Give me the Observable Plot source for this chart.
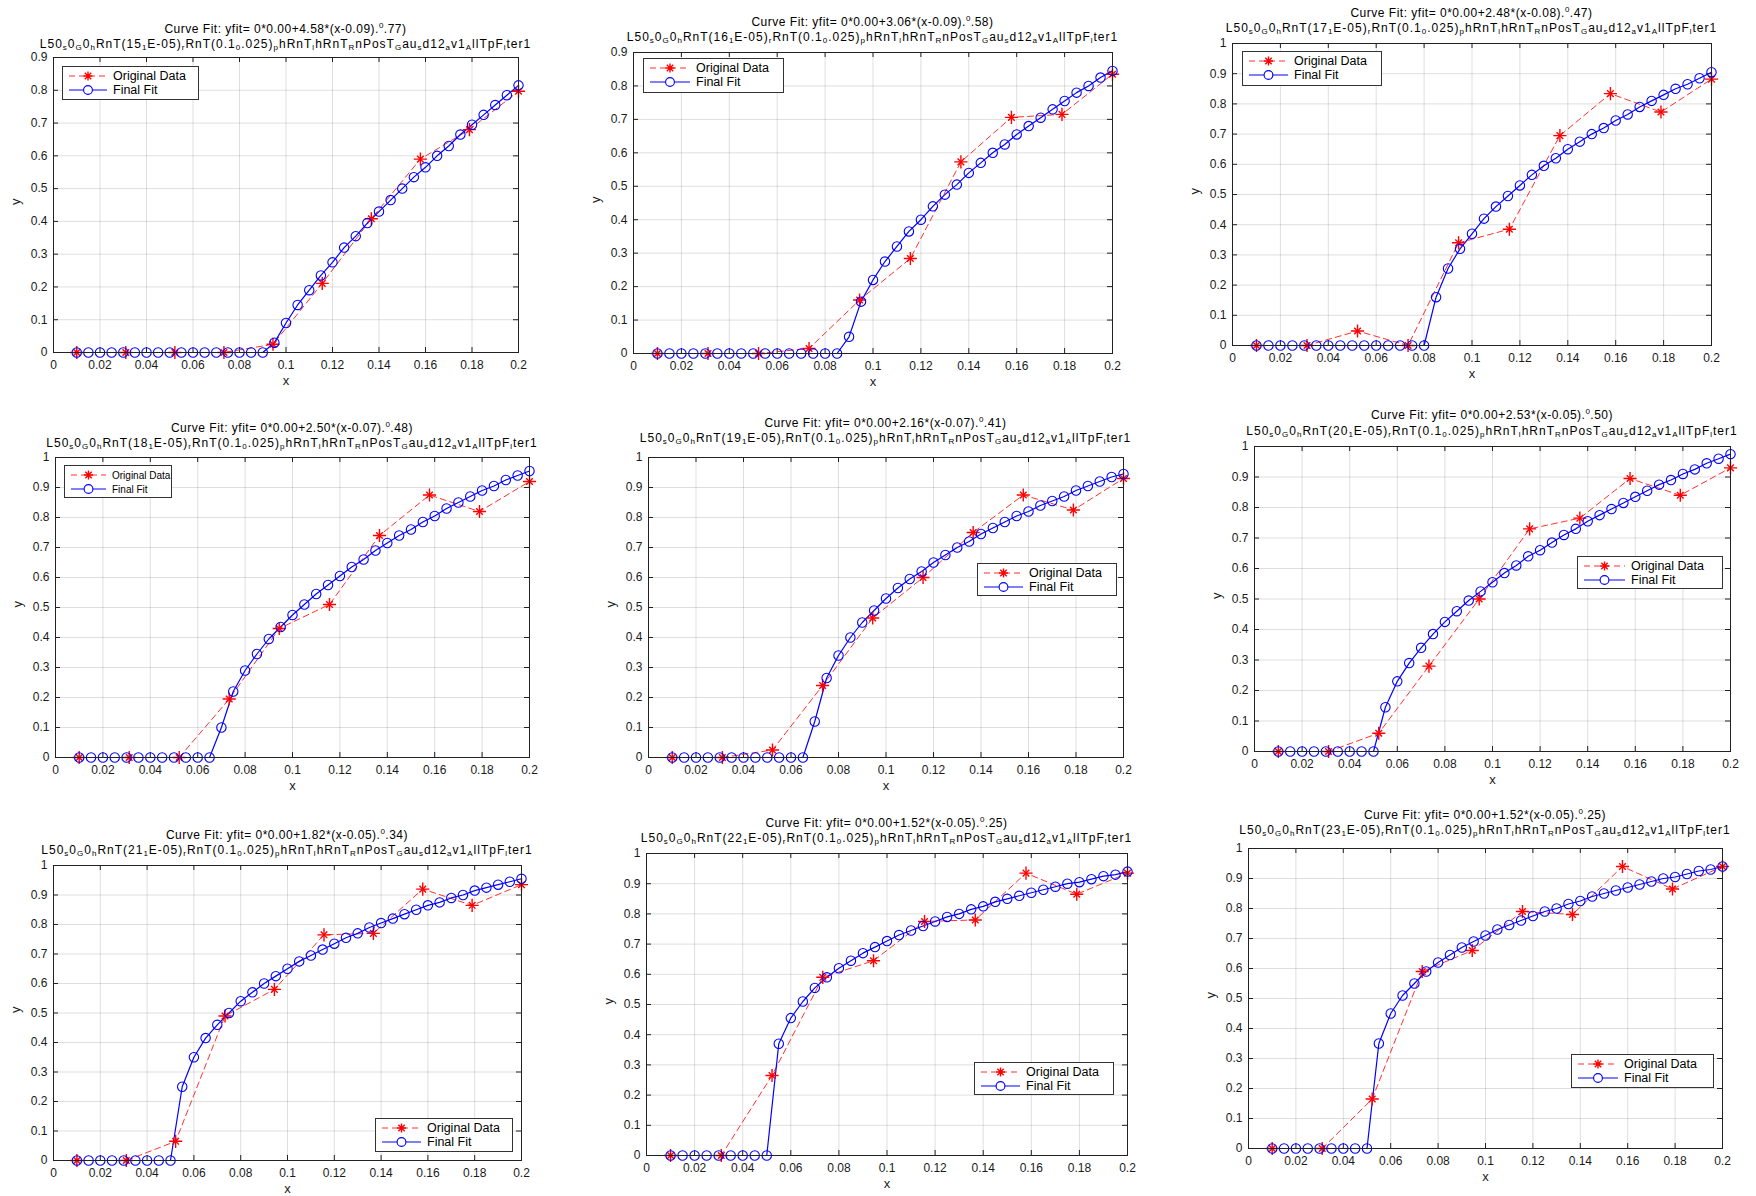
<!DOCTYPE html>
<html>
<head>
<meta charset="utf-8">
<script src="https://cdn.jsdelivr.net/npm/d3@7"></script>
<script src="https://cdn.jsdelivr.net/npm/@observablehq/plot@0.6"></script>
<style>
  html, body { margin: 0; padding: 0; background: #fff; }
  #root { position: relative; width: 1756px; height: 1196px; overflow: hidden; background: #fff; font-family: "Liberation Sans", Arial, sans-serif; }
  .panel-svg { position: absolute; }
  .ttl { position: absolute; white-space: nowrap; text-align: center; font-size: 12px; line-height: 13px; height: 13px; color: #000; }
  .ttl.l1 { letter-spacing: 0.5px; }
  .ttl.l2 { letter-spacing: 1px; }
  .ttl sub, .ttl sup { font-size: 8px; line-height: 0; }
  .ttl sub { vertical-align: -2px; }
  .ttl sup { vertical-align: 5px; }
  .legend { position: absolute; background: #fff; border: 1.5px solid #333; box-sizing: border-box; color: #000; padding: 2px 4px; white-space: nowrap; }
  .legend .row { display: flex; align-items: center; height: 14px; }
  .legend svg { flex: none; margin-right: 4px; }
</style>
</head>
<body>
<div id="root"></div>
<script>
// ---- data ----
const xOrig = [0.01, 0.0311, 0.0522, 0.0733, 0.0944, 0.1156, 0.1367, 0.1578, 0.1789, 0.2];
const xFit = [0.01, 0.015, 0.02, 0.025, 0.03, 0.035, 0.04, 0.045, 0.05, 0.055, 0.06, 0.065, 0.07, 0.075, 0.08,
  0.085, 0.09, 0.095, 0.1, 0.105, 0.11, 0.115, 0.12, 0.125, 0.13, 0.135, 0.14, 0.145, 0.15, 0.155, 0.16,
  0.165, 0.17, 0.175, 0.18, 0.185, 0.19, 0.195, 0.2];
const xTicks = [0, 0.02, 0.04, 0.06, 0.08, 0.1, 0.12, 0.14, 0.16, 0.18, 0.2];
const yTicks09 = [0, 0.1, 0.2, 0.3, 0.4, 0.5, 0.6, 0.7, 0.8, 0.9];
const yTicks10 = [0, 0.1, 0.2, 0.3, 0.4, 0.5, 0.6, 0.7, 0.8, 0.9, 1];

const runIds = [15, 16, 17, 18, 19, 20, 21, 22, 23];
const coefA = ["4.58", "3.06", "2.48", "2.50", "2.16", "2.53", "1.82", "1.52", "1.52"];
const coefB = ["0.09", "0.09", "0.08", "0.07", "0.07", "0.05", "0.05", "0.05", "0.05"];
const coefC = [".77", ".58", ".47", ".48", ".41", ".50", ".34", ".25", ".25"];
const yMaxes = [0.9, 0.9, 1, 1, 1, 1, 1, 1, 1];
const legendLabels = ["Original Data", "Final Fit"];

const orig15 = [0, 0, 0, 0, 0.025, 0.211, 0.408, 0.59, 0.68, 0.797];
const orig16 = [0, 0, 0, 0.015, 0.16, 0.284, 0.573, 0.706, 0.715, 0.835];
const orig17 = [0, 0, 0.048, 0, 0.34, 0.385, 0.695, 0.834, 0.773, 0.882];
const orig18 = [0, 0, 0, 0.195, 0.43, 0.51, 0.74, 0.875, 0.82, 0.92];
const orig19 = [0, 0, 0.025, 0.24, 0.465, 0.60, 0.75, 0.875, 0.825, 0.93];
const orig20 = [0, 0, 0.06, 0.28, 0.50, 0.73, 0.765, 0.895, 0.84, 0.93];
const orig21 = [0, 0, 0.065, 0.49, 0.58, 0.765, 0.77, 0.92, 0.865, 0.935];
const orig22 = [0, 0, 0.265, 0.59, 0.645, 0.775, 0.78, 0.935, 0.865, 0.935];
const orig23 = [0, 0, 0.165, 0.59, 0.66, 0.79, 0.78, 0.94, 0.865, 0.94];

const fit15 = [0, 0, 0, 0, 0, 0, 0, 0, 0, 0, 0, 0, 0, 0, 0, 0, 0,
  0.03, 0.09, 0.145, 0.19, 0.235, 0.275, 0.32, 0.355, 0.395, 0.43, 0.465, 0.50, 0.535, 0.565, 0.60, 0.63, 0.665, 0.695, 0.725, 0.755, 0.785, 0.815];
const fit16 = [0, 0, 0, 0, 0, 0, 0, 0, 0, 0, 0, 0, 0, 0, 0, 0,
  0.05, 0.155, 0.22, 0.275, 0.32, 0.365, 0.40, 0.44, 0.475, 0.505, 0.54, 0.57, 0.60, 0.625, 0.655, 0.68, 0.705, 0.73, 0.755, 0.78, 0.80, 0.825, 0.845];
const fit17 = [0, 0, 0, 0, 0, 0, 0, 0, 0, 0, 0, 0, 0, 0, 0,
  0.16, 0.255, 0.32, 0.37, 0.42, 0.46, 0.495, 0.53, 0.565, 0.595, 0.62, 0.65, 0.675, 0.70, 0.72, 0.745, 0.765, 0.79, 0.81, 0.83, 0.85, 0.865, 0.885, 0.905];
const fit18 = [0, 0, 0, 0, 0, 0, 0, 0, 0, 0, 0, 0,
  0.10, 0.22, 0.29, 0.345, 0.395, 0.435, 0.475, 0.51, 0.545, 0.575, 0.605, 0.635, 0.66, 0.69, 0.715, 0.74, 0.76, 0.785, 0.805, 0.83, 0.85, 0.87, 0.89, 0.905, 0.925, 0.94, 0.955];
const fit19 = [0, 0, 0, 0, 0, 0, 0, 0, 0, 0, 0, 0,
  0.12, 0.265, 0.34, 0.40, 0.45, 0.49, 0.53, 0.565, 0.595, 0.62, 0.65, 0.675, 0.70, 0.72, 0.745, 0.765, 0.785, 0.805, 0.82, 0.84, 0.855, 0.87, 0.89, 0.905, 0.92, 0.935, 0.945];
const fit20 = [0, 0, 0, 0, 0, 0, 0, 0, 0,
  0.145, 0.23, 0.29, 0.34, 0.385, 0.425, 0.46, 0.495, 0.525, 0.555, 0.585, 0.61, 0.64, 0.66, 0.685, 0.71, 0.73, 0.755, 0.775, 0.795, 0.815, 0.835, 0.855, 0.875, 0.89, 0.91, 0.925, 0.945, 0.96, 0.975];
const fit21 = [0, 0, 0, 0, 0, 0, 0, 0, 0,
  0.25, 0.35, 0.415, 0.46, 0.50, 0.54, 0.57, 0.60, 0.625, 0.65, 0.675, 0.695, 0.715, 0.735, 0.755, 0.77, 0.79, 0.805, 0.82, 0.835, 0.85, 0.865, 0.875, 0.89, 0.90, 0.915, 0.925, 0.935, 0.945, 0.955];
const fit22 = [0, 0, 0, 0, 0, 0, 0, 0, 0,
  0.37, 0.455, 0.51, 0.555, 0.59, 0.62, 0.645, 0.67, 0.69, 0.71, 0.73, 0.745, 0.76, 0.775, 0.79, 0.80, 0.815, 0.825, 0.84, 0.85, 0.86, 0.87, 0.88, 0.89, 0.90, 0.905, 0.915, 0.925, 0.93, 0.94];
const fit23 = [0, 0, 0, 0, 0, 0, 0, 0, 0,
  0.35, 0.45, 0.51, 0.55, 0.59, 0.62, 0.645, 0.67, 0.69, 0.71, 0.73, 0.745, 0.76, 0.775, 0.79, 0.80, 0.815, 0.825, 0.84, 0.85, 0.86, 0.87, 0.88, 0.89, 0.90, 0.905, 0.915, 0.925, 0.93, 0.94];

const origSeries = [orig15, orig16, orig17, orig18, orig19, orig20, orig21, orig22, orig23];
const fitSeries = [fit15, fit16, fit17, fit18, fit19, fit20, fit21, fit22, fit23];

// ---- layout (pixel frames of each axes box, title rows, legend boxes & font) ----
const layout = [
  {L: 53, R: 518, T: 57, B: 352, t1: 29, t2: 44, leg: [62, 66, 137, 34], lf: 12.5},
  {L: 633, R: 1112, T: 52, B: 353, t1: 22, t2: 37, leg: [643, 58, 141, 35], lf: 12.5},
  {L: 1232, R: 1711, T: 43, B: 345, t1: 13, t2: 28, leg: [1242, 51, 140, 35], lf: 12.5},
  {L: 55, R: 529, T: 457, B: 757, t1: 428, t2: 443, leg: [64, 465, 108, 33], lf: 10},
  {L: 648, R: 1123, T: 457, B: 757, t1: 423, t2: 438, leg: [977, 563, 140, 33], lf: 12.5},
  {L: 1254, R: 1730, T: 446, B: 751, t1: 415, t2: 431, leg: [1577, 556, 146, 33], lf: 12.5},
  {L: 53, R: 521, T: 865, B: 1160, t1: 835, t2: 850, leg: [375, 1118, 138, 34], lf: 12.5},
  {L: 646, R: 1127, T: 853, B: 1155, t1: 823, t2: 838, leg: [974, 1062, 140, 33], lf: 12.5},
  {L: 1248, R: 1722, T: 848, B: 1148, t1: 815, t2: 830, leg: [1571, 1054, 143, 34], lf: 12.5}
];

const root = document.getElementById("root");
const fmt = d => d === 0 ? "0" : String(+d.toFixed(2));
const FONT = "'Liberation Sans', Arial, sans-serif";

function titleLine1(i) {
  return `Curve Fit: yfit= 0*0.00+${coefA[i]}*(x-${coefB[i]}).<sup>0</sup>${coefC[i]})`;
}
function titleLine2(i) {
  return `L50<sub>s</sub>0<sub>G</sub>0<sub>h</sub>RnT(${runIds[i]}<sub>1</sub>E-05)<sub>r</sub>RnT(0.1<sub>0</sub>.025)<sub>p</sub>hRnT<sub>l</sub>hRnT<sub>R</sub>nPosT<sub>G</sub>au<sub>s</sub>d12<sub>a</sub>v1<sub>A</sub>llTpF<sub>l</sub>ter1`;
}

runIds.forEach((id, i) => {
  const lay = layout[i];
  const w = lay.R - lay.L, h = lay.B - lay.T;
  const mL = 45, mR = 6, mT = 6, mB = 42;
  const yMax = yMaxes[i];
  const yt = yMax === 1 ? yTicks10 : yTicks09;
  const orig = xOrig.map((x, k) => ({x, y: origSeries[i][k]}));
  const fit = xFit.map((x, k) => ({x, y: fitSeries[i][k]}));
  const tyLen = yMax * 5 / h;   // 5px inward tick, in y units
  const txLen = 0.2 * 5 / w;    // 5px inward tick, in x units

  const chart = Plot.plot({
    width: w + mL + mR,
    height: h + mT + mB,
    marginLeft: mL, marginRight: mR, marginTop: mT, marginBottom: mB,
    style: {fontFamily: FONT, fontSize: "12px", color: "#1a1a1a", background: "transparent", overflow: "visible"},
    x: {domain: [0, 0.2], label: null},
    y: {domain: [0, yMax], label: null},
    marks: [
      Plot.gridX(xTicks, {stroke: "#000", strokeOpacity: 0.13, strokeWidth: 1}),
      Plot.gridY(yt, {stroke: "#000", strokeOpacity: 0.13, strokeWidth: 1}),
      Plot.ruleX(xTicks, {x: d => d, y1: 0, y2: tyLen, stroke: "#222"}),
      Plot.ruleX(xTicks, {x: d => d, y1: yMax - tyLen, y2: yMax, stroke: "#222"}),
      Plot.ruleY(yt, {y: d => d, x1: 0, x2: txLen, stroke: "#222"}),
      Plot.ruleY(yt, {y: d => d, x1: 0.2 - txLen, x2: 0.2, stroke: "#222"}),
      Plot.axisX(xTicks, {tickSize: 0, tickPadding: 8, tickFormat: fmt, fill: "#1a1a1a"}),
      Plot.axisY(yt, {tickSize: 0, tickPadding: 6, tickFormat: fmt, fill: "#1a1a1a"}),
      Plot.text(["x"], {frameAnchor: "bottom", dy: 32, fontSize: 13}),
      Plot.text(["y"], {frameAnchor: "left", dx: -38, rotate: -90, fontSize: 13}),
      Plot.line(orig, {x: "x", y: "y", stroke: "#ff3030", strokeWidth: 1, strokeDasharray: "6,4"}),
      Plot.line(fit, {x: "x", y: "y", stroke: "#0000ff", strokeWidth: 1.2}),
      Plot.dot(orig, {x: "x", y: "y", symbol: "plus", r: 4.3, stroke: "#ff0000", strokeWidth: 1.4}),
      Plot.dot(orig, {x: "x", y: "y", symbol: "times", r: 3.1, stroke: "#ff0000", strokeWidth: 1.4}),
      Plot.dot(fit, {x: "x", y: "y", symbol: "circle", r: 4.7, stroke: "#0000ff", strokeWidth: 1.1, fill: "none"}),
      Plot.frame({stroke: "#222", strokeWidth: 1})
    ]
  });
  chart.classList.add("panel-svg");
  chart.style.left = (lay.L - mL) + "px";
  chart.style.top = (lay.T - mT) + "px";
  root.appendChild(chart);

  const cx = (lay.L + lay.R) / 2;
  const t1 = document.createElement("div");
  t1.className = "ttl l1";
  t1.innerHTML = titleLine1(i);
  t1.style.left = (cx - 400) + "px";
  t1.style.width = "800px";
  t1.style.top = (lay.t1 - 6.5) + "px";
  root.appendChild(t1);
  const t2 = document.createElement("div");
  t2.className = "ttl l2";
  t2.innerHTML = titleLine2(i);
  t2.style.left = (cx - 400) + "px";
  t2.style.width = "800px";
  t2.style.top = (lay.t2 - 6.5) + "px";
  root.appendChild(t2);

  const [lx, ly, lw, lh] = lay.leg;
  const leg = document.createElement("div");
  leg.className = "legend";
  leg.style.left = lx + "px";
  leg.style.top = ly + "px";
  leg.style.width = lw + "px";
  leg.style.height = lh + "px";
  leg.style.fontSize = lay.lf + "px";
  const sw = Math.round(lw * (lay.lf < 12 ? 0.36 : 0.31));
  const c = sw / 2;
  leg.innerHTML = `
    <div class="row"><svg width="${sw}" height="14"><line x1="2" y1="7" x2="${sw - 2}" y2="7" stroke="#ff3030" stroke-dasharray="6,4"/>
      <path d="M${c},2.5v9M${c - 4.5},7h9M${c - 3.2},3.8l6.4,6.4M${c - 3.2},10.2l6.4,-6.4" stroke="#ff0000" stroke-width="1.4"/></svg><span>${legendLabels[0]}</span></div>
    <div class="row"><svg width="${sw}" height="14"><line x1="2" y1="7" x2="${sw - 2}" y2="7" stroke="#0000ff" stroke-width="1.2"/>
      <circle cx="${c}" cy="7" r="4.4" fill="#fff" stroke="#0000ff" stroke-width="1.1"/></svg><span>${legendLabels[1]}</span></div>`;
  root.appendChild(leg);
});
</script>
</body>
</html>
